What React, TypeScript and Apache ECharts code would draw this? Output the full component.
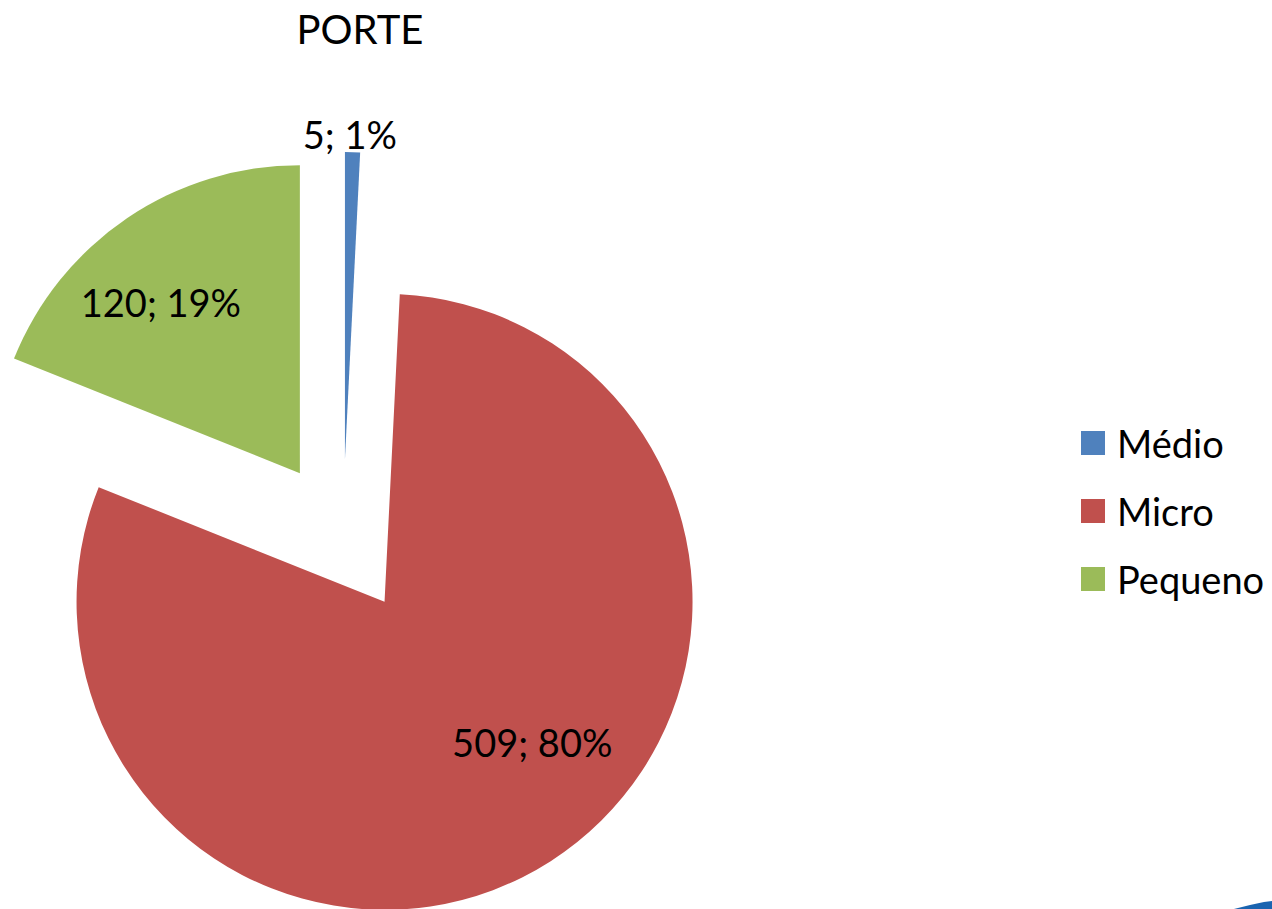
import React, { useEffect, useRef } from "react";
import * as echarts from "echarts";

const categories = ["Médio", "Micro", "Pequeno"];
const values = [5, 509, 120];
const percents = [1, 80, 19];
const colors = ["#4F81BD", "#C0504D", "#9BBB59"];
const labelShifts = [
  [1, -169],
  [63, 8],
  [-51, -41],
];

export default function App() {
  const ref = useRef<HTMLDivElement>(null);
  useEffect(() => {
    if (!ref.current) return;
    const chart = echarts.init(ref.current, null, { renderer: "svg" });
    const font = "Lato, 'Open Sans', sans-serif";
    chart.setOption({
      animation: false,
      backgroundColor: "#ffffff",
      title: {
        text: "PORTE",
        left: 355,
        top: 4,
        textAlign: "center",
        textStyle: { fontFamily: font, fontSize: 40, fontWeight: "normal", color: "#000" },
      },
      legend: {
        orient: "vertical",
        left: 1076,
        top: 419,
        itemWidth: 24,
        itemHeight: 24,
        itemGap: 30,
        icon: "rect",
        selectedMode: false,
        data: categories,
        textStyle: {
          fontFamily: font,
          fontSize: 38,
          lineHeight: 38,
          color: "#000",
          padding: [0, 0, 0, 7],
        },
      },
      series: [
        {
          type: "pie",
          center: [343, 537],
          radius: 308,
          startAngle: 90,
          clockwise: true,
          selectedMode: "multiple",
          selectedOffset: 77,
          avoidLabelOverlap: false,
          emphasis: { disabled: true },
          label: {
            show: true,
            position: "inside",
            fontFamily: font,
            fontSize: 38,
            color: "#000",
            formatter: (p: any) => `${p.value}; ${percents[p.dataIndex]}%`,
          },
          labelLine: { show: false },
          labelLayout: (p: any) => ({
            dx: labelShifts[p.dataIndex][0],
            dy: labelShifts[p.dataIndex][1],
          }),
          data: categories.map((name, i) => ({
            name,
            value: values[i],
            selected: true,
            itemStyle: { color: colors[i] },
            select: { itemStyle: { color: colors[i] }, label: { color: "#000" } },
          })),
        },
      ],
      graphic: [
        {
          type: "polygon",
          shape: {
            points: [
              [1234, 909],
              [1250, 905],
              [1264, 902],
              [1272, 901],
              [1272, 909],
            ],
          },
          style: { fill: "#1A64B0" },
        },
      ],
    });
    return () => chart.dispose();
  }, []);
  return (
    <div
      ref={ref}
      style={{ width: 1272, height: 909, position: "absolute", left: 0, top: 0 }}
    />
  );
}
